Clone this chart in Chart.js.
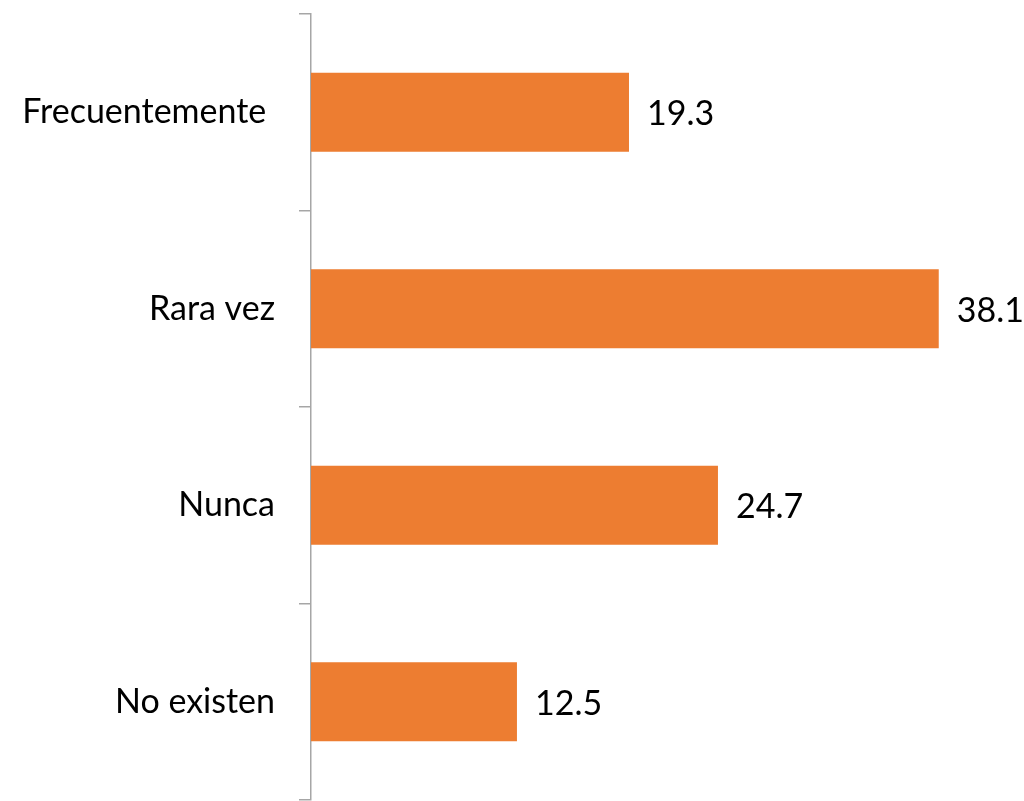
<!DOCTYPE html>
<html>
<head>
<meta charset="utf-8">
<script src="https://cdn.jsdelivr.net/npm/chart.js@4"></script>
<style>
  html, body { margin: 0; padding: 0; background: #fff; }
  #wrap { width: 1024px; height: 801px; }
</style>
</head>
<body>
<div id="wrap"><canvas id="myChart"></canvas></div>
<script>
const categories = ["Frecuentemente ", "Rara vez", "Nunca", "No existen"];
const values = [19.3, 38.1, 24.7, 12.5];

const FONT = "Lato";
const FSIZE = 34;

// value labels just right of each bar
const valueLabels = {
  id: "valueLabels",
  afterDatasetsDraw(chart) {
    const ctx = chart.ctx;
    const meta = chart.getDatasetMeta(0);
    ctx.save();
    ctx.font = FSIZE + "px " + FONT;
    ctx.fillStyle = "#000";
    ctx.textAlign = "left";
    ctx.textBaseline = "middle";
    meta.data.forEach((bar, i) => {
      ctx.fillText(values[i].toFixed(1), bar.x + 18, bar.y + 2);
    });
    ctx.restore();
  }
};

new Chart("myChart", {
  type: "bar",
  data: {
    labels: categories,
    datasets: [{
      data: values,
      backgroundColor: "#ED7D31",
      barPercentage: 0.402,
      categoryPercentage: 1
    }]
  },
  plugins: [valueLabels],
  options: {
    indexAxis: "y",
    responsive: true,
    maintainAspectRatio: false,
    animation: false,
    layout: { autoPadding: false, padding: { top: 14, right: 21, bottom: 1, left: 0 } },
    plugins: {
      legend: { display: false },
      tooltip: { enabled: false }
    },
    scales: {
      x: { display: false, min: 0, max: 42 },
      y: {
        afterFit(scale) {
          scale.width = 311;
          scale.paddingTop = 0;
          scale.paddingBottom = 0;
        },
        grid: {
          drawOnChartArea: false,
          tickLength: 12,
          color: "#a6a6a6",
          lineWidth: 1.5
        },
        border: { color: "#a6a6a6", width: 1.5 },
        ticks: {
          padding: 24,
          color: "#000",
          font: { family: FONT, size: FSIZE }
        }
      }
    }
  }
});
</script>
</body>
</html>
